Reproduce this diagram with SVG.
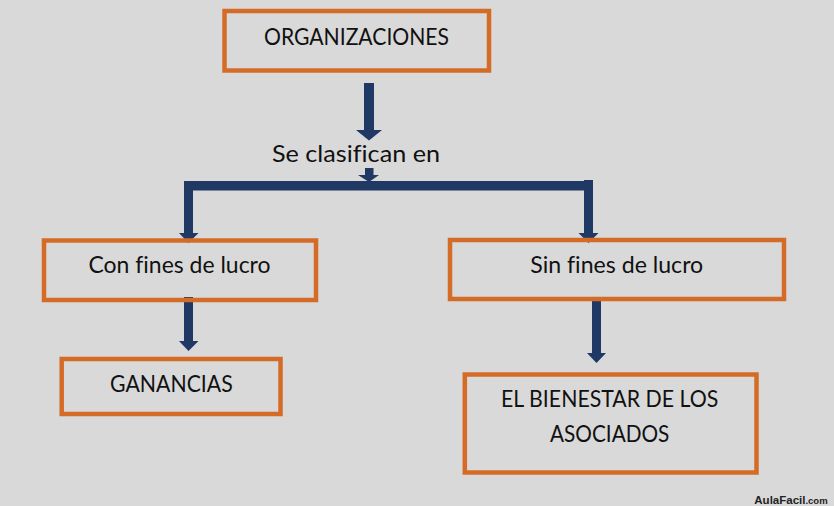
<svg xmlns="http://www.w3.org/2000/svg" width="834" height="506" viewBox="0 0 834 506">
  <style>
    .box { fill: none; stroke: #d46b26; stroke-width: 4.5; }
    .lbl { font-family: Lato, "Open Sans", "Noto Sans", sans-serif; font-size: 23px; fill: #111; text-anchor: middle; font-variant-ligatures: none; }
    .arr { fill: #1f3864; stroke: none; }
    .wm { font-family: "Liberation Sans", Arial, sans-serif; font-weight: bold; fill: #222; }
  </style>
  <rect width="834" height="506" fill="#d9d9d9"/>

  <g id="connectors">
    <polygon class="arr" points="364,83 374,83 374,130 382,130 369,140.5 356,130 364,130"/>
    <polygon class="arr" points="365,168 373.5,168 373.5,175 379,175 369,182 358,175 365,175"/>
    <rect class="arr" x="184" y="181" width="409" height="9.5"/>
    <polygon class="arr" points="184,181 193,181 193,233 198.5,233 188.5,243 179,233 184,233"/>
    <polygon class="arr" points="584,180 593,180 593,233 598.5,233 588.5,243 578.5,233 584,233"/>
    <polygon class="arr" points="184,297 193,297 193,341 198.5,341 188.5,351 179,341 184,341"/>
    <polygon class="arr" points="592,297 601,297 601,353 606,353 596.5,363 587,353 592,353"/>
  </g>

  <g id="organizaciones">
    <rect class="box" x="224.5" y="11" width="264.5" height="59.5"/>
    <text class="lbl" x="356.5" y="45" textLength="185" lengthAdjust="spacingAndGlyphs">ORGANIZACIONES</text>
  </g>

  <g id="se-clasifican">
    <text class="lbl" x="356" y="161.7" textLength="168" lengthAdjust="spacingAndGlyphs">Se clasifican en</text>
  </g>

  <g id="con-fines">
    <rect class="box" x="44" y="240.5" width="272" height="59.5"/>
    <text class="lbl" x="179.5" y="272.7" textLength="182" lengthAdjust="spacingAndGlyphs">Con fines de lucro</text>
  </g>

  <g id="sin-fines">
    <rect class="box" x="450" y="240" width="334" height="59"/>
    <text class="lbl" x="616.7" y="272.7" textLength="173" lengthAdjust="spacingAndGlyphs">Sin fines de lucro</text>
  </g>

  <g id="ganancias">
    <rect class="box" x="61.7" y="359" width="218.8" height="55"/>
    <text class="lbl" x="171.4" y="392.3" textLength="122.7" lengthAdjust="spacingAndGlyphs">GANANCIAS</text>
  </g>

  <g id="bienestar">
    <rect class="box" x="464.8" y="374.5" width="291.7" height="98"/>
    <text class="lbl" x="609.7" y="407.3" textLength="217.3" lengthAdjust="spacingAndGlyphs">EL BIENESTAR DE LOS</text>
    <text class="lbl" x="609.7" y="441.7" textLength="119.3" lengthAdjust="spacingAndGlyphs">ASOCIADOS</text>
  </g>

  <text class="wm" x="754.3" y="504" font-size="11.5">AulaFacil<tspan font-size="9.5">.com</tspan></text>
</svg>
